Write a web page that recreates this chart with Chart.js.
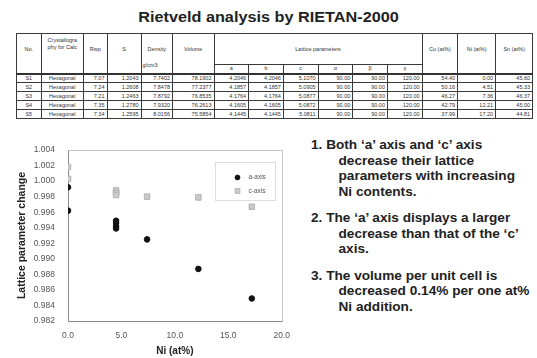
<!DOCTYPE html>
<html>
<head>
<meta charset="utf-8">
<script src="https://cdn.jsdelivr.net/npm/chart.js@4.4.1/dist/chart.umd.min.js"></script>
<style>
  body { margin: 0; background: #fff; }
  #page { position: relative; width: 537px; height: 358px; overflow: hidden;
          font-family: "Liberation Sans", Arial, sans-serif; color: #222; background: #fff; }
  #title { position: absolute; left: 0; top: 9px; width: 537px; text-align: center;
           font-weight: bold; font-size: 14px; line-height: 17px; transform: scaleX(1.16); }
  #tbl { position: absolute; left: 16px; top: 33px; border-collapse: collapse; table-layout: fixed;
         font-size: 5.5px; color: #333; }
  #tbl th, #tbl td { border: 1px solid #3a3a3a; padding: 0 2px; overflow: hidden; white-space: nowrap;
                     font-weight: normal; box-sizing: border-box; }
  #tbl th { vertical-align: top; text-align: center; position: relative; line-height: 7px; }
  #tbl thead tr.r1 { height: 31px; }
  #tbl thead tr.r2 { height: 9px; }
  #tbl thead tr.r2 th { padding: 0; line-height: 7px; vertical-align: middle; }
  #tbl thead tr.r2 th, #tbl th.tall { border-bottom: 2px solid #333; }
  #tbl tbody tr { height: 9px; }
  #tbl td { line-height: 7px; text-align: right; vertical-align: middle; }
  #tbl td.c { text-align: center; }
  .top12 { padding-top: 12px !important; }
  .unit { position: absolute; left: 1px; bottom: 4px; }
  #notes { position: absolute; left: 311px; top: 138px; font-weight: bold; font-size: 12.4px;
           line-height: 15.5px; color: #222; transform: scaleX(1.1); transform-origin: 0 0; }
  #notes .p { margin-bottom: 11px; }
  #notes .i { padding-left: 25px; }
  #plot { position: absolute; left: 0; top: 125px; width: 300px; height: 233px; }
</style>
</head>
<body>
<div id="page">
  <div id="title">Rietveld analysis by RIETAN-2000</div>
  <table id="tbl">
    <colgroup>
      <col style="width:24.5px"><col style="width:42.5px"><col style="width:23.5px"><col style="width:34px">
      <col style="width:31.5px"><col style="width:41.5px">
      <col style="width:34.7px"><col style="width:34.7px"><col style="width:34.7px">
      <col style="width:34.7px"><col style="width:34.7px"><col style="width:34.7px">
      <col style="width:35.5px"><col style="width:38px"><col style="width:37px">
    </colgroup>
    <thead id="thead"></thead>
    <tbody id="tbody"></tbody>
  </table>
  <div id="notes">
    <div class="p">
      <div>1. Both ‘a’ axis and ‘c’ axis</div>
      <div class="i">decrease their lattice</div>
      <div class="i">parameters with increasing</div>
      <div class="i">Ni contents.</div>
    </div>
    <div class="p">
      <div>2. The ‘a’ axis displays a larger</div>
      <div class="i">decrease than that of the ‘c’</div>
      <div class="i">axis.</div>
    </div>
    <div class="p">
      <div>3. The volume per unit cell is</div>
      <div class="i">decreased 0.14% per one at%</div>
      <div class="i">Ni addition.</div>
    </div>
  </div>
  <div id="plot"><canvas id="chart" width="300" height="233"></canvas></div>
</div>
<script>
// ---- refinement table ----
const sampleNo   = ['S1', 'S2', 'S3', 'S4', 'S5'];
const crystal    = ['Hexagonal', 'Hexagonal', 'Hexagonal', 'Hexagonal', 'Hexagonal'];
const rwp        = ['7.07', '7.24', '7.21', '7.35', '7.34'];
const sFactor    = ['1.2043', '1.2608', '1.2463', '1.2780', '1.2595'];
const density    = ['7.7402', '7.8478', '7.8792', '7.9320', '8.0156'];
const volume     = ['78.1902', '77.2377', '76.8535', '76.2613', '75.5854'];
const latA       = ['4.2046', '4.1857', '4.1764', '4.1605', '4.1445'];
const latB       = ['4.2046', '4.1857', '4.1764', '4.1605', '4.1445'];
const latC       = ['5.1070', '5.0905', '5.0877', '5.0872', '5.0811'];
const alpha      = ['90.00', '90.00', '90.00', '90.00', '90.00'];
const beta       = ['90.00', '90.00', '90.00', '90.00', '90.00'];
const gamma      = ['120.00', '120.00', '120.00', '120.00', '120.00'];
const cuAt       = ['54.40', '50.16', '46.27', '42.79', '37.99'];
const niAt       = ['0.00', '4.51', '7.36', '12.21', '17.20'];
const snAt       = ['45.60', '45.33', '46.37', '45.00', '44.81'];
const latticeHeads = ['a', 'b', 'c', 'α', 'β', 'γ'];

// ---- lattice parameter change vs. Ni content ----
const niForA  = [0, 0, 4.5, 4.5, 4.5, 4.5, 7.4, 12.2, 17.2];
const aChange = [0.9992, 0.9962, 0.9949, 0.9946, 0.9942, 0.9939, 0.9925, 0.9887, 0.9849];
const niForC  = [0, 0, 4.5, 4.5, 4.5, 7.4, 12.2, 17.2];
const cChange = [1.0018, 1.0003, 0.9988, 0.9985, 0.9982, 0.9980, 0.9979, 0.9967];
const seriesNames = ['a-axis', 'c-axis'];
const yMin = 0.982, yMax = 1.004, yStep = 0.002;
const xMin = 0, xMax = 20, xStep = 5;

// build the table header and body
const thead = document.getElementById('thead');
thead.innerHTML =
  '<tr class="r1">' +
  '<th rowspan="2" class="tall top12">No.</th>' +
  '<th rowspan="2" class="tall" style="padding-top:3px;white-space:normal">Crystallogra<br>phy for Calc</th>' +
  '<th rowspan="2" class="tall top12">Rwp</th>' +
  '<th rowspan="2" class="tall top12">S</th>' +
  '<th rowspan="2" class="tall top12">Density<span class="unit">g/cm3</span></th>' +
  '<th rowspan="2" class="tall top12">Volume</th>' +
  '<th colspan="6" class="top12">Lattice parameters</th>' +
  '<th rowspan="2" class="tall top12">Cu (at%)</th>' +
  '<th rowspan="2" class="tall top12">Ni (at%)</th>' +
  '<th rowspan="2" class="tall top12">Sn (at%)</th>' +
  '</tr><tr class="r2">' + latticeHeads.map(h => '<th>' + h + '</th>').join('') + '</tr>';

const tbody = document.getElementById('tbody');
const cols = [sampleNo, crystal, rwp, sFactor, density, volume, latA, latB, latC, alpha, beta, gamma, cuAt, niAt, snAt];
sampleNo.forEach((_, r) => {
  const tr = document.createElement('tr');
  cols.forEach((col, ci) => {
    const td = document.createElement('td');
    if (ci <= 1) td.className = 'c';
    td.textContent = col[r];
    tr.appendChild(td);
  });
  tbody.appendChild(tr);
});

// plot frame: darker left/bottom axis lines, light top/right edges
const plotFrame = {
  id: 'plotFrame',
  beforeDatasetsDraw(chart) {
    const { ctx, chartArea: a } = chart;
    const l = Math.round(a.left) + 0.5, r = Math.round(a.right) + 0.5;
    const t = Math.round(a.top) + 0.5, b = Math.round(a.bottom) + 0.5;
    ctx.save();
    ctx.lineWidth = 1;
    ctx.strokeStyle = '#c6c6c6';
    ctx.beginPath(); ctx.moveTo(l, t); ctx.lineTo(r, t); ctx.lineTo(r, b); ctx.stroke();
    ctx.strokeStyle = '#8c8c8c';
    ctx.beginPath(); ctx.moveTo(l, t); ctx.lineTo(l, b); ctx.lineTo(r, b); ctx.stroke();
    ctx.restore();
  }
};

// boxed legend placed inside the plot area, top right
const insideLegend = {
  id: 'insideLegend',
  afterDatasetsDraw(chart) {
    const { ctx, chartArea: a } = chart;
    const w = 60, h = 38;
    const x = Math.round(a.right - 7 - w) + 0.5, y = Math.round(a.top + 12) + 0.5;
    ctx.save();
    ctx.fillStyle = '#fff';
    ctx.fillRect(x, y, w, h);
    ctx.strokeStyle = '#dedede';
    ctx.lineWidth = 1;
    ctx.strokeRect(x, y, w, h);
    ctx.font = '6.5px "Liberation Sans", Arial, sans-serif';
    ctx.textBaseline = 'middle';
    chart.data.datasets.forEach((ds, i) => {
      const cy = y + 15 + i * 13.5;
      ctx.fillStyle = ds.backgroundColor;
      ctx.strokeStyle = ds.borderColor;
      ctx.lineWidth = ds.borderWidth;
      Chart.helpers.drawPoint(ctx, { pointStyle: ds.pointStyle, radius: ds.pointRadius * 0.85, borderWidth: ds.borderWidth, rotation: 0 }, x + 22, cy);
      ctx.fillStyle = '#555';
      ctx.fillText(ds.label, x + 33, cy);
    });
    ctx.restore();
  }
};

const tickFont = { family: '"Liberation Sans", Arial, sans-serif', size: 8.5 };
const titleFont = { family: '"Liberation Sans", Arial, sans-serif', size: 10.5, weight: 'bold' };

new Chart(document.getElementById('chart'), {
  type: 'scatter',
  data: {
    datasets: [
      {
        label: seriesNames[0],
        data: niForA.map((x, i) => ({ x, y: aChange[i] })),
        pointStyle: 'circle', pointRadius: 2.8, borderWidth: 1,
        backgroundColor: '#111', borderColor: '#111'
      },
      {
        label: seriesNames[1],
        data: niForC.map((x, i) => ({ x, y: cChange[i] })),
        pointStyle: 'rect', pointRadius: 3.9, borderWidth: 1,
        backgroundColor: '#cacaca', borderColor: '#b4b4b4'
      }
    ]
  },
  options: {
    responsive: false,
    animation: false,
    devicePixelRatio: 1,
    layout: { padding: { top: 25, right: 10, left: 0, bottom: 0 } },
    plugins: { legend: { display: false }, tooltip: { enabled: false } },
    scales: {
      x: {
        type: 'linear', min: xMin, max: xMax,
        grid: { display: false, drawTicks: false },
        border: { display: false },
        ticks: { stepSize: xStep, padding: 10, color: '#555', font: tickFont,
                 callback: v => v.toFixed(1) },
        title: { display: true, text: 'Ni (at%)', color: '#222', font: { ...titleFont, size: 10 },
                 padding: { top: 0, bottom: 1 } },
        afterFit: s => { s.height = 37; }
      },
      y: {
        type: 'linear', min: yMin, max: yMax,
        grid: { display: false, drawTicks: false },
        border: { display: false },
        ticks: { stepSize: yStep, padding: 13, color: '#555', font: tickFont,
                 callback: v => v.toFixed(3) },
        title: { display: true, text: 'Lattice parameter change', color: '#222', font: titleFont,
                 padding: { top: 16, bottom: 0 } },
        afterFit: s => { s.width = 68; }
      }
    }
  },
  plugins: [plotFrame, insideLegend]
});
</script>
</body>
</html>
